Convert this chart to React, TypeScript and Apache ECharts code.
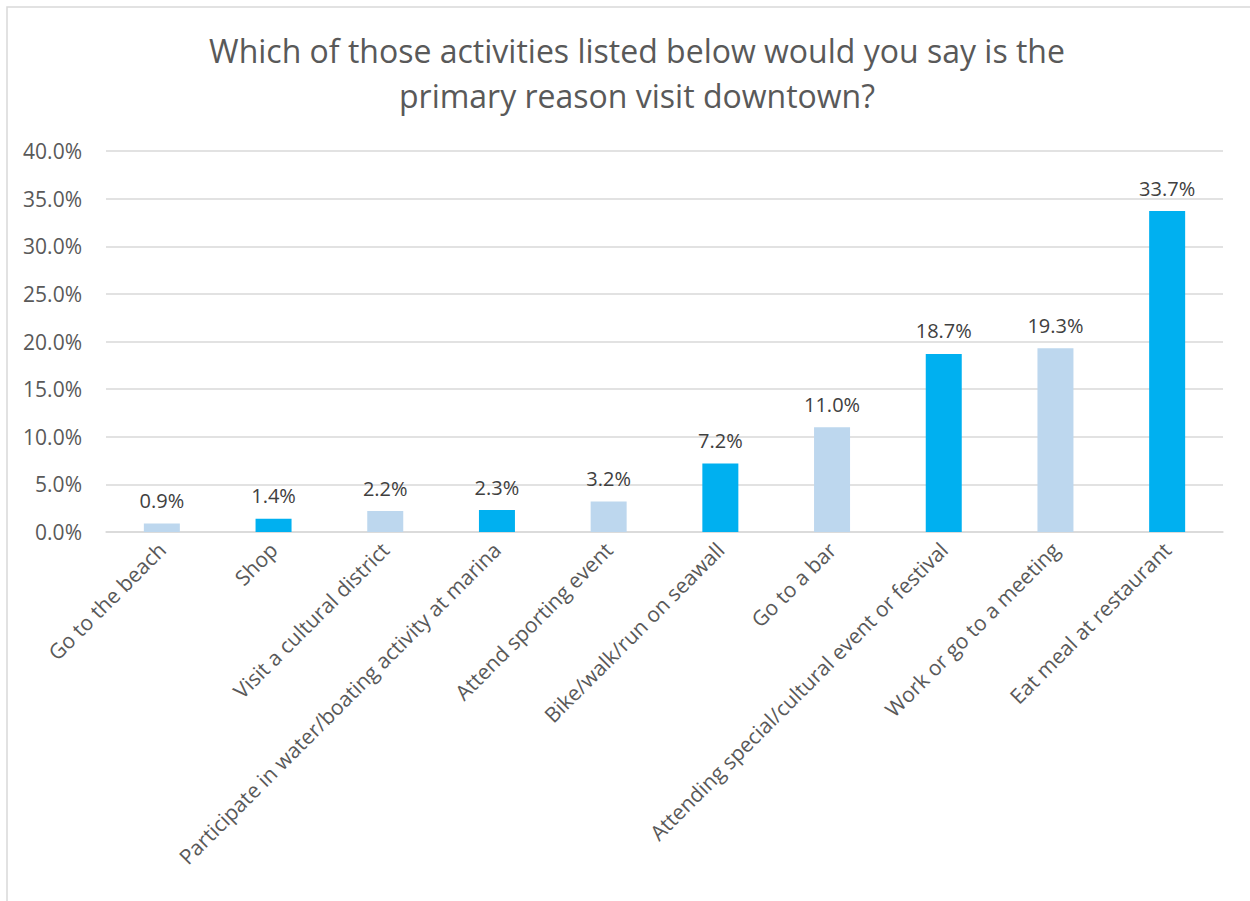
import React, { useEffect, useRef } from "react";
import * as echarts from "echarts";

const categories = [
  "Go to the beach",
  "Shop",
  "Visit a cultural district",
  "Participate in water/boating activity at marina",
  "Attend sporting event",
  "Bike/walk/run on seawall",
  "Go to a bar",
  "Attending special/cultural event or festival",
  "Work or go to a meeting",
  "Eat meal at restaurant",
];
const values = [0.9, 1.4, 2.2, 2.3, 3.2, 7.2, 11.0, 18.7, 19.3, 33.7];
const barColors = ["#BDD7EE", "#00B0F0"];
const titleText = "Which of those activities listed below would you say is the\nprimary reason visit downtown?";

export default function App() {
  const ref = useRef<HTMLDivElement>(null);
  useEffect(() => {
    if (!ref.current) return;
    const chart = echarts.init(ref.current, null, { renderer: "svg" });
    const font = "'Open Sans', 'Noto Sans', sans-serif";
    chart.setOption({
      animation: false,
      backgroundColor: "#ffffff",
      textStyle: { fontFamily: font },
      title: {
        text: titleText,
        left: 632,
        textAlign: "center",
        top: 23,
        textStyle: {
          fontFamily: font,
          fontSize: 32,
          fontWeight: "normal",
          color: "#595959",
          lineHeight: 45,
        },
      },
      graphic: [
        {
          type: "rect",
          shape: { x: 7, y: 7, width: 1400, height: 1000 },
          style: { fill: "none", stroke: "#D9D9D9", lineWidth: 1.5 },
          silent: true,
        },
      ],
      grid: { left: 106, right: 27, top: 151, bottom: 369, containLabel: false },
      xAxis: {
        type: "category",
        data: categories,
        axisLine: { show: true, lineStyle: { color: "#D9D9D9", width: 1.5 } },
        axisTick: { show: false },
        axisLabel: {
          rotate: 45,
          interval: 0,
          fontSize: 21,
          color: "#595959",
          fontFamily: font,
          margin: 14,
        },
      },
      yAxis: {
        type: "value",
        min: 0,
        max: 40,
        interval: 5,
        axisLine: { show: false },
        axisTick: { show: false },
        splitLine: { lineStyle: { color: "#D9D9D9", width: 1.5 } },
        axisLabel: {
          formatter: (v: number) => v.toFixed(1) + "%",
          fontSize: 21,
          color: "#595959",
          fontFamily: font,
          margin: 24,
        },
      },
      series: [
        {
          type: "bar",
          barWidth: 36,
          data: values.map((v, i) => ({
            value: v,
            itemStyle: { color: barColors[i % 2] },
          })),
          label: {
            show: true,
            position: "top",
            distance: 13,
            formatter: (p: any) => p.value.toFixed(1) + "%",
            fontSize: 20,
            color: "#404040",
            fontFamily: font,
          },
        },
      ],
    });
    return () => chart.dispose();
  }, []);
  return (
    <div
      ref={ref}
      style={{ position: "fixed", left: 0, top: 0, width: 1250, height: 901 }}
    />
  );
}
